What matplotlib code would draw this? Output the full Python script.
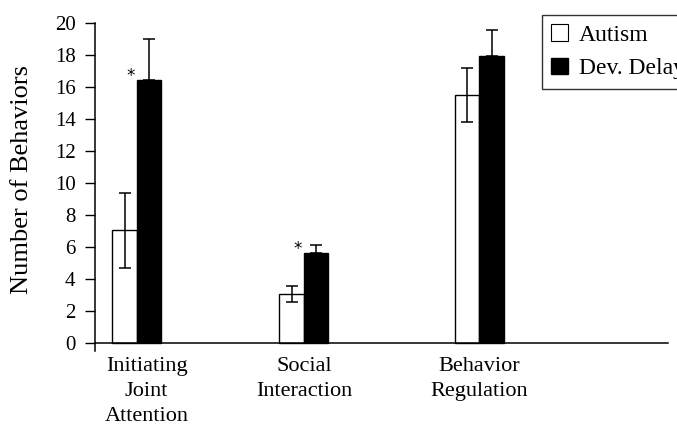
import numpy as np
import matplotlib.pyplot as plt
from matplotlib.patches import Patch

categories = ["Initiating\nJoint\nAttention", "Social\nInteraction", "Behavior\nRegulation"]
autism = [7.05, 3.05, 15.5]
autism_err = [2.35, 0.5, 1.7]
delay = [16.45, 5.6, 17.95]
delay_err = [2.55, 0.55, 1.6]
significant = [True, True, False]

plt.rcParams['font.family'] = ['Liberation Serif', 'DejaVu Serif']


def main():
    fig = plt.figure(figsize=(6.77, 4.25), dpi=100)
    ax = fig.add_axes([95 / 677, 74 / 425, 573 / 677, 328 / 425])

    pos = np.array([0, 1, 2.05])
    w = 0.147

    ax.bar(pos - w / 2, autism, w, color="white", edgecolor="black", linewidth=1.0, zorder=2)
    ax.bar(pos + w / 2, delay, w, color="black", edgecolor="black", linewidth=1.0, zorder=2)
    ax.errorbar(pos - w / 2, autism, yerr=autism_err, fmt="none", ecolor="black",
                elinewidth=1.1, capsize=4, capthick=1.1, zorder=3)
    ax.errorbar(pos + w / 2, delay, yerr=[np.zeros(3), delay_err], fmt="none", ecolor="black",
                elinewidth=1.1, capsize=4, capthick=1.1, zorder=3)

    for i, sig in enumerate(significant):
        if sig:
            ax.text(pos[i] - 0.015, delay[i] + 0.25, "*", ha="right", va="center",
                    fontsize=12, family="DejaVu Sans")

    ax.set_xlim(-0.251, 3.18)
    ax.set_ylim(-0.5, 20)
    ax.set_yticks(range(0, 21, 2))
    ax.set_xticks([])
    ax.tick_params(axis="y", direction="out", length=7, width=1, labelsize=15, pad=7)

    # category labels, the first one sits a bit right of its bar pair
    shift = [7, 0, 0]
    for i, cat in enumerate(categories):
        ax.annotate(cat, (pos[i], 0), xytext=(shift[i], -10), textcoords="offset points",
                    ha="center", va="top", fontsize=16, linespacing=1.45,
                    annotation_clip=False)

    ax.spines["top"].set_visible(False)
    ax.spines["right"].set_visible(False)
    ax.spines["bottom"].set_position(("data", 0))
    ax.spines["left"].set_linewidth(1.1)
    ax.spines["bottom"].set_linewidth(1.1)
    ax.set_ylabel("Number of Behaviors", fontsize=19)
    ax.yaxis.set_label_coords(-0.108, 0.524)

    handles = [Patch(facecolor="white", edgecolor="black", linewidth=0.8),
               Patch(facecolor="black", edgecolor="black")]
    leg = fig.legend(handles, ["Autism", "Dev. Delay"], loc="upper left",
                     bbox_to_anchor=(542 / 677, 1 - 15 / 425), fontsize=17,
                     frameon=True, fancybox=False, edgecolor="black",
                     handlelength=0.7, handleheight=0.7, handletextpad=0.45,
                     borderpad=0.4, labelspacing=0.5, borderaxespad=0)
    leg.get_frame().set_linewidth(1.0)

    fig.savefig("out.png", dpi=100)


if __name__ == "__main__":
    main()
